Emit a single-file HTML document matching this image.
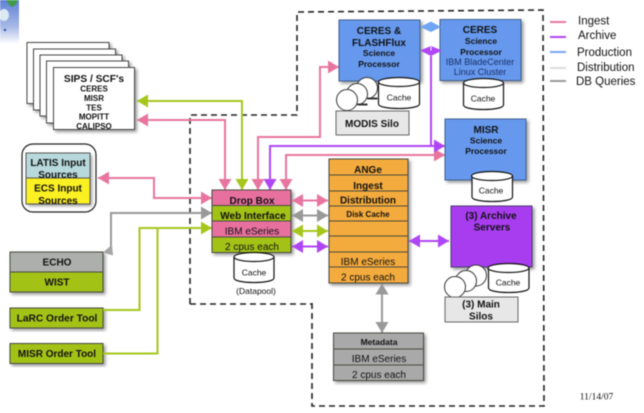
<!DOCTYPE html>
<html><head><meta charset="utf-8"><style>
html,body{margin:0;padding:0;background:#fff;width:644px;height:413px;overflow:hidden}
svg{display:block;filter:blur(.45px)}
text{font-family:"Liberation Sans",sans-serif;fill:#111;text-anchor:middle}
.b{font-weight:bold}
.bx{stroke:#4a4a40;stroke-width:1}
.c{fill:none;stroke-width:2}
</style></head><body>
<svg width="644" height="413" viewBox="0 0 644 413" xmlns="http://www.w3.org/2000/svg">
<defs>
<linearGradient id="g" x1="0" y1="0" x2="0" y2="1"><stop offset="0" stop-color="#5f80d8"/><stop offset=".6" stop-color="#a6b8e6"/><stop offset="1" stop-color="#fff"/></linearGradient>
<filter id="s" x="-15%" y="-15%" width="135%" height="135%"><feDropShadow dx="2" dy="2" stdDeviation="1.6" flood-color="#000" flood-opacity=".4"/></filter>
<marker id="mP" markerUnits="userSpaceOnUse" markerWidth="12" markerHeight="13" refX="11" refY="6.5" orient="auto-start-reverse"><path d="M0 0L11 6.5L0 13z" fill="#e8759f"/></marker>
<marker id="mG" markerUnits="userSpaceOnUse" markerWidth="12" markerHeight="13" refX="11" refY="6.5" orient="auto-start-reverse"><path d="M0 0L11 6.5L0 13z" fill="#a6c61c"/></marker>
<marker id="mV" markerUnits="userSpaceOnUse" markerWidth="12" markerHeight="13" refX="11" refY="6.5" orient="auto-start-reverse"><path d="M0 0L11 6.5L0 13z" fill="#b045f5"/></marker>
<marker id="mY" markerUnits="userSpaceOnUse" markerWidth="12" markerHeight="13" refX="11" refY="6.5" orient="auto-start-reverse"><path d="M0 0L11 6.5L0 13z" fill="#999"/></marker>
</defs>

<rect x="0" y="0" width="19" height="44" fill="url(#g)"/>
<path d="M6 0h12l-2 4q-3 4-6 2z" fill="#3f9a4a"/>
<ellipse cx="4" cy="15" rx="5" ry="6" fill="#dcebf2"/>
<circle cx="5" cy="30" r="1.2" fill="#2a50b0"/>

<!-- dashed boundary -->
<path d="M190 304H312M312 303V406H544L543 10L297 12V115H190V304" fill="none" stroke="#222" stroke-width="1.6" stroke-dasharray="6 4"/>

<!-- SIPS stack -->
<g fill="#fff" stroke="#444" stroke-width="1" filter="url(#s)">
<rect x="27" y="42.500" width="82" height="61"/>
<rect x="33.500" y="49" width="82" height="61"/>
<rect x="40" y="55" width="82" height="61"/>
<rect x="46.500" y="61" width="82" height="62"/>
<rect x="53.500" y="67.500" width="81" height="62"/>
</g>
<text class="b" x="94" y="82" font-size="10.200">SIPS / SCF's</text>
<text class="b" x="94" y="91.500" font-size="8">CERES</text><text class="b" x="94" y="101" font-size="8">MISR</text><text class="b" x="94" y="110.500" font-size="8">TES</text><text class="b" x="94" y="119.500" font-size="8">MOPITT</text><text class="b" x="94" y="129" font-size="8">CALIPSO</text>

<!-- LATIS -->
<rect x="22" y="144" width="74" height="68" rx="11" fill="#fff" stroke="#222" stroke-width="1.200"/>
<g filter="url(#s)"><rect x="26" y="153" width="64" height="25" fill="#b8d9dc"/><rect x="26" y="178" width="64" height="26" fill="#fbf024"/></g>
<path d="M26 153h64v51h-64zM26 178h64" fill="none" stroke="#555"/>
<text class="b" x="58" y="166" font-size="10">LATIS Input</text><text class="b" x="58" y="178" font-size="10">Sources</text><text class="b" x="58" y="191.500" font-size="10">ECS Input</text><text class="b" x="58" y="204" font-size="10">Sources</text>

<!-- left tools -->
<g filter="url(#s)"><rect class="bx" x="10" y="252" width="93" height="20" fill="#adafac"/><rect class="bx" x="10" y="272" width="93" height="20" fill="#a3c212"/></g>
<text class="b" x="57" y="265.500" font-size="10">ECHO</text><text class="b" x="57" y="285.500" font-size="10">WIST</text>
<rect class="bx" x="10" y="308" width="93" height="20" fill="#a3c212" filter="url(#s)"/>
<text class="b" x="57" y="321.500" font-size="10.200">LaRC Order Tool</text>
<rect class="bx" x="10" y="343.500" width="93" height="20" fill="#a3c212" filter="url(#s)"/>
<text class="b" x="57" y="357" font-size="10">MISR Order Tool</text>

<!-- connectors -->
<g class="c" stroke="#a6c61c" fill="none">
<path d="M242 190V101H137" marker-start="url(#mG)" marker-end="url(#mG)"/>
<path d="M103 310H139.500V228H212" marker-end="url(#mG)"/>
<path d="M103 353.500H157.500V228"/>
</g>
<g class="c" stroke="#e8759f" fill="none">
<path d="M225 190V120H137" marker-start="url(#mP)" marker-end="url(#mP)"/>
<path d="M98 178H154V198H212" marker-start="url(#mP)" marker-end="url(#mP)"/>
<path d="M258 190V137H320V67H339" marker-start="url(#mP)" marker-end="url(#mP)"/>
<path d="M286 190V155H445" marker-start="url(#mP)" marker-end="url(#mP)"/>
</g>
<g class="c" stroke="#b045f5" fill="none">
<path d="M270 190V146H445" marker-start="url(#mV)" marker-end="url(#mV)"/>
</g>
<path d="M111 253V213H212" fill="none" stroke="#999" stroke-width="2" marker-end="url(#mY)"/>
<path d="M103 252.500L112 244.500L113 255.500z" fill="#a5a5a5"/>

<!-- drop box -->
<g filter="url(#s)">
<rect class="bx" x="212" y="190" width="79" height="15.500" fill="#e8709f"/>
<rect class="bx" x="212" y="205.500" width="79" height="15.500" fill="#a3c212"/>
<rect class="bx" x="212" y="221" width="79" height="16" fill="#e8709f"/>
<rect class="bx" x="212" y="237" width="79" height="15.500" fill="#a3c212"/>
</g>
<text class="b" x="252" y="204" font-size="10">Drop Box</text>
<text class="b" x="253" y="219" font-size="10">Web Interface</text>
<text x="252" y="234.500" font-size="10">IBM eSeries</text>
<text x="252" y="250" font-size="10">2 cpus each</text>

<!-- ANGe -->
<g class="bx" fill="#f4ab3c" filter="url(#s)">
<rect x="329" y="159" width="79" height="16"/><rect x="329" y="175" width="79" height="16"/><rect x="329" y="191" width="79" height="15"/><rect x="329" y="206" width="79" height="15"/><rect x="329" y="221" width="79" height="15"/><rect x="329" y="236" width="79" height="16"/><rect x="329" y="252" width="79" height="15"/><rect x="329" y="267" width="79" height="16"/>
</g>
<text class="b" x="368" y="173" font-size="10">ANGe</text>
<text class="b" x="368" y="189" font-size="10">Ingest</text>
<text class="b" x="368" y="203.500" font-size="10">Distribution</text>
<text class="b" x="368" y="217" font-size="8">Disk Cache</text>
<text x="368" y="265" font-size="10">IBM eSeries</text>
<text x="368" y="280.500" font-size="10">2 cpus each</text>

<!-- double arrows -->
<g class="c" fill="none">
<path d="M292 200.500H328" stroke="#e8759f" marker-start="url(#mP)" marker-end="url(#mP)"/>
<path d="M292 215.500H328" stroke="#999" marker-start="url(#mY)" marker-end="url(#mY)"/>
<path d="M292 231H328" stroke="#a6c61c" marker-start="url(#mG)" marker-end="url(#mG)"/>
<path d="M292 246.500H328" stroke="#b045f5" marker-start="url(#mV)" marker-end="url(#mV)"/>
<path d="M409 241H449" stroke="#b045f5" marker-start="url(#mV)" marker-end="url(#mV)"/>
<path d="M382 283.500V333" stroke="#999" marker-start="url(#mY)" marker-end="url(#mY)"/>
</g>

<!-- metadata -->
<g class="bx" fill="#a9a9a9" filter="url(#s)">
<rect x="333.500" y="333" width="90" height="16"/><rect x="333.500" y="349" width="90" height="16"/><rect x="333.500" y="365" width="90" height="15.500"/>
</g>
<text class="b" x="379" y="345" font-size="8.500">Metadata</text>
<text x="379" y="362" font-size="10">IBM eSeries</text>
<text x="379" y="378" font-size="10">2 cpus each</text>

<!-- processors -->
<g stroke="#3f5f8f" fill="#6699ee" filter="url(#s)">
<rect x="339" y="20" width="81" height="61"/>
<rect x="440" y="19.500" width="81" height="61"/>
<rect x="445" y="119" width="81" height="61"/>
</g>
<rect x="451" y="206" width="81" height="61" fill="#a83df0" stroke="#4a3a70" filter="url(#s)"/>

<text class="b" x="379" y="34" font-size="10">CERES &amp;</text><text class="b" x="379" y="46" font-size="10">FLASHFlux</text>
<text class="b" x="379" y="56" font-size="8.500">Science</text><text class="b" x="379" y="67" font-size="8.500">Processor</text>
<text class="b" x="480" y="33" font-size="10">CERES</text>
<text class="b" x="481" y="44" font-size="8.500">Science</text><text class="b" x="481" y="55" font-size="8.500">Processor</text>
<text x="480" y="65" font-size="9" style="fill:#1c2f66">IBM BladeCenter</text><text x="480" y="75" font-size="9" style="fill:#1c2f66">Linux Cluster</text>
<text class="b" x="486" y="133" font-size="10">MISR</text>
<text class="b" x="486" y="143.500" font-size="8.500">Science</text><text class="b" x="486" y="154" font-size="8.500">Processor</text>
<text class="b" x="491" y="219" font-size="10">(3) Archive</text><text class="b" x="492" y="230.500" font-size="10">Servers</text>

<!-- diamonds -->
<path d="M420 27L431 21.500L441 27L431 32z" fill="#6fa5f2"/>
<path d="M420 50.500L431 46L442 50.500L431 56z" fill="#b045f5"/>
<path d="M431 46.500v4" stroke="#fff" stroke-width="1"/>
<path d="M431 146V56" stroke="#b045f5" stroke-width="2"/>

<!-- discs -->
<g fill="#fff" stroke="#333" stroke-width="1">
<circle cx="367" cy="88" r="10.500"/><path d="M368 98h9v1h-9z"/>
<circle cx="357" cy="94" r="10.500"/><path d="M358 104h9v1h-9z"/>
<circle cx="347" cy="100" r="10.500"/>
<circle cx="476" cy="275.500" r="10.500"/>
<circle cx="466" cy="281" r="10.500"/>
<circle cx="455" cy="287" r="10.500"/>
</g>
<rect x="336" y="111" width="73" height="24" fill="#e7e7e7" stroke="#666" stroke-width="1"/>
<text class="b" x="372" y="127" font-size="10">MODIS Silo</text>
<rect x="445" y="297" width="73" height="25" fill="#e7e7e7" stroke="#666" stroke-width="1"/>
<text class="b" x="481" y="307.500" font-size="10">(3) Main</text><text class="b" x="481" y="319.500" font-size="10">Silos</text>

<!-- cylinders -->
<g fill="#fff" stroke="#111" stroke-width="1.200">
<path d="M378.500 82V104C378.500 110 419.500 110 419.500 104V82"/><ellipse cx="399" cy="82" rx="20.500" ry="4.500"/>
<path d="M463.500 83V105C463.500 111 503.500 111 503.500 105V83"/><ellipse cx="483.500" cy="83" rx="20" ry="4.500"/>
<path d="M472 176V197C472 203 512.500 203 512.500 197V176"/><ellipse cx="492" cy="176" rx="20.500" ry="4.500"/>
<path d="M488.500 268V288C488.500 294 529 294 529 288V268"/><ellipse cx="508.500" cy="268" rx="20.500" ry="4.500"/>
<path d="M234 257V278C234 284 274 284 274 278V257"/><ellipse cx="254" cy="257" rx="20" ry="4.500"/>
</g>
<text x="399" y="100.500" font-size="8.500">Cache</text><text x="483" y="101.500" font-size="8.500">Cache</text><text x="491" y="193.500" font-size="8.500">Cache</text><text x="508" y="285.500" font-size="8.500">Cache</text><text x="254" y="275.500" font-size="8.500">Cache</text>
<text x="256" y="294" font-size="8.500">(Datapool)</text>

<!-- legend -->
<g stroke-width="2">
<path d="M550 22H566" stroke="#e8759f"/><path d="M550 37H566" stroke="#b045f5"/><path d="M550 52H566" stroke="#76a5f5"/><path d="M550 68H566" stroke="#ddd"/><path d="M550 81H566" stroke="#999"/>
</g>
<text x="578" y="24.500" font-size="11.500" style="text-anchor:start">Ingest</text>
<text x="578" y="39" font-size="11.500" style="text-anchor:start">Archive</text>
<text x="577" y="56" font-size="11.500" style="text-anchor:start">Production</text>
<text x="577" y="71" font-size="11.500" style="text-anchor:start">Distribution</text>
<text x="576" y="85" font-size="11.500" style="text-anchor:start">DB Queries</text>
<text x="596.500" y="399.500" font-size="9.500" style="font-family:'Liberation Serif',serif">11/14/07</text>
</svg>
</body></html>
